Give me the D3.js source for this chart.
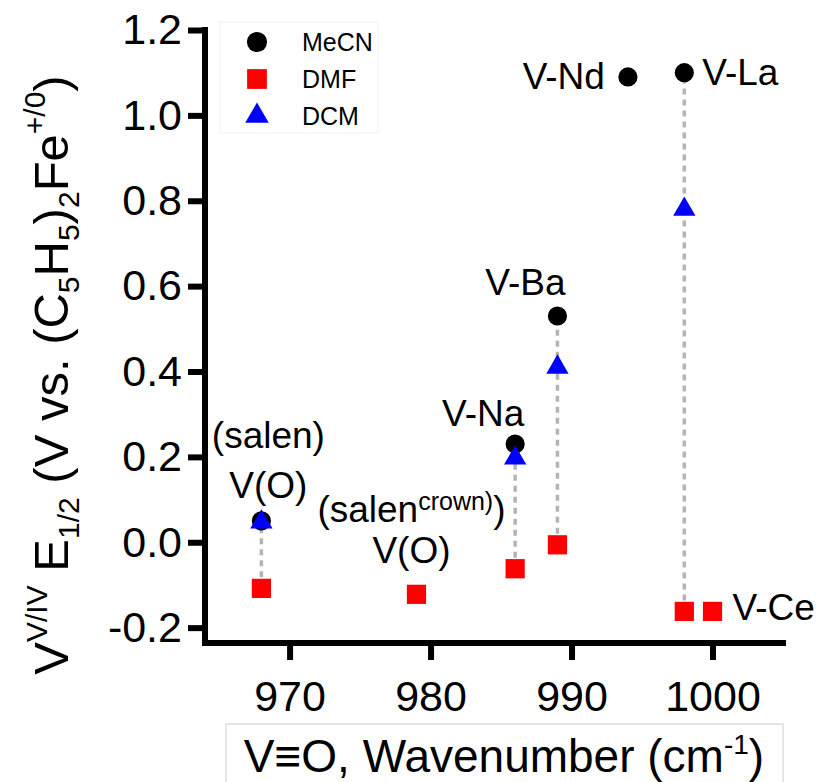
<!DOCTYPE html>
<html>
<head>
<meta charset="utf-8">
<script src="https://cdn.jsdelivr.net/npm/d3@7"></script>
<style>
	html, body { margin: 0; padding: 0; background: #fff; }
</style>
</head>
<body>
<script>
// wavenumber (cm-1) and E1/2 (V) per solvent
const mecnX = [968, 986, 989, 994, 998];
const mecnY = [0.05, 0.23, 0.53, 1.09, 1.10];
const dmfX = [968, 979, 986, 989, 998, 1000];
const dmfY = [-0.108, -0.122, -0.062, -0.006, -0.162, -0.162];
const dcmX = [968, 986, 989, 998];
const dcmY = [0.047, 0.197, 0.41, 0.78];

const xTicks = [970, 980, 990, 1000];
const yTicks = [-0.2, 0.0, 0.2, 0.4, 0.6, 0.8, 1.0, 1.2];

const solvents = ["MeCN", "DMF", "DCM"];
const colors = ["#000000", "#ff0000", "#0000ff"];

// compound labels, anchored to the point they name
const labels = [
	{ x: 968, y: 0.05, lines: ["(salen)", "V(O)"] },
	{ x: 979, y: -0.122, lines: ["(salen|crown)", "V(O)"] },
	{ x: 986, y: 0.23, lines: ["V-Na"] },
	{ x: 989, y: 0.53, lines: ["V-Ba"] },
	{ x: 994, y: 1.09, lines: ["V-Nd"] },
	{ x: 998, y: 1.10, lines: ["V-La"] },
	{ x: 1000, y: -0.162, lines: ["V-Ce"] },
];

const width = 822;
const height = 782;
const font = "'Liberation Sans', Arial, Helvetica, sans-serif";

const x = d3.scaleLinear().domain([964, 1005]).range([205, 783]);
const y = d3.scaleLinear().domain([-0.236, 1.2]).range([643, 30]);

const svg = d3
	.select("body")
	.append("svg")
	.attr("width", width)
	.attr("height", height)
	.attr("font-family", font);

// dashed connectors: DMF point up to the MeCN point at the same wavenumber
const pairs = mecnX
	.map((v, i) => ({ x: v, top: mecnY[i], bottom: dmfY[dmfX.indexOf(v)] }))
	.filter((d) => d.bottom !== undefined);

svg.append("g")
	.selectAll("line")
	.data(pairs)
	.join("line")
	.attr("x1", (d) => x(d.x))
	.attr("x2", (d) => x(d.x))
	.attr("y1", (d) => y(d.bottom))
	.attr("y2", (d) => y(d.top))
	.attr("stroke", "#b4b4b4")
	.attr("stroke-width", 3.5)
	.attr("stroke-dasharray", "6,5");

// axes
const yFormat = (d) => d3.format(".1f")(d).replace("\u2212", "-");
const yAxis = svg.append("g")
	.attr("transform", `translate(${x(964)},0)`)
	.call(d3.axisLeft(y).tickValues(yTicks).tickSize(17).tickPadding(6).tickFormat(yFormat));

const xAxis = svg.append("g")
	.attr("transform", `translate(0,${y(-0.236)})`)
	.call(d3.axisBottom(x).tickValues(xTicks).tickSize(17).tickPadding(20).tickFormat(d3.format("d")));

[yAxis, xAxis].forEach((g) => {
	g.select(".domain").attr("stroke-width", 6).attr("stroke-linecap", "square");
	g.selectAll(".tick line").attr("stroke-width", 6);
	g.selectAll(".tick text")
		.attr("font-family", font)
		.attr("font-size", 43)
		.attr("fill", "#000");
});
// plain axis lines without the outer tick stubs
yAxis.select(".domain").attr("d", `M0,${y(1.2)}V${y(-0.236)}`);
xAxis.select(".domain").attr("d", `M${x(964)},0H${x(1005)}`);

// markers
const markers = [
	{ xs: mecnX, ys: mecnY, type: d3.symbolCircle, size: 290 },
	{ xs: dmfX, ys: dmfY, type: d3.symbolSquare, size: 370 },
	{ xs: dcmX, ys: dcmY, type: d3.symbolTriangle, size: 215 },
];

markers.forEach((m, k) => {
	svg.append("g")
		.selectAll("path")
		.data(m.xs.map((v, i) => [v, m.ys[i]]))
		.join("path")
		.attr("transform", (d) => `translate(${x(d[0])},${y(d[1])})`)
		.attr("d", d3.symbol().type(m.type).size(m.size))
		.attr("fill", colors[k]);
});

// compound annotations
const ann = svg.append("g").attr("font-size", 37).attr("fill", "#000");
const place = [
	{ dx: 7, dy: [-73, -23], anchor: "middle" },
	{ dx: -5, dy: [-72, -31], anchor: "middle" },
	{ dx: -32, dy: [-18], anchor: "middle" },
	{ dx: -32, dy: [-21], anchor: "middle" },
	{ dx: -23, dy: [12], anchor: "end" },
	{ dx: 18, dy: [12], anchor: "start" },
	{ dx: 20, dy: [9], anchor: "start" },
];

labels.forEach((l, i) => {
	l.lines.forEach((line, j) => {
		const t = ann.append("text")
			.attr("x", x(l.x) + place[i].dx)
			.attr("y", y(l.y) + place[i].dy[j])
			.attr("text-anchor", place[i].anchor);
		const parts = line.split("|");
		if (parts.length === 1) {
			t.text(line);
		} else {
			t.append("tspan").text(parts[0]);
			t.append("tspan").attr("font-size", 25).attr("dy", -12).text(parts[1]);
			t.append("tspan").attr("dy", 12).text(")");
		}
	});
});

// legend
const legend = svg.append("g");
legend.append("rect")
	.attr("x", 220).attr("y", 22).attr("width", 158).attr("height", 111)
	.attr("fill", "none").attr("stroke", "#f0f0f0");
markers.forEach((m, k) => {
	const ly = 42 + k * 37;
	legend.append("path")
		.attr("transform", `translate(257,${ly})`)
		.attr("d", d3.symbol().type(m.type).size(k === 2 ? 240 : k === 1 ? 390 : 320))
		.attr("fill", colors[k]);
	legend.append("text")
		.attr("x", 302).attr("y", ly + 9)
		.attr("font-size", 25)
		.text(solvents[k]);
});

// x axis title in a light box
svg.append("rect")
	.attr("x", 226).attr("y", 724).attr("width", 557).attr("height", 80)
	.attr("fill", "none").attr("stroke", "#cccccc");
const xt = svg.append("text")
	.attr("x", 504).attr("y", 772)
	.attr("text-anchor", "middle")
	.attr("font-size", 46);
xt.append("tspan").text("V\u2261O, Wavenumber (cm");
xt.append("tspan").attr("font-size", 28).attr("dy", -18).text("-1");
xt.append("tspan").attr("dy", 18).text(")");

// y axis title
const yt = svg.append("text")
	.attr("transform", "translate(68,375) rotate(-90)")
	.attr("text-anchor", "middle")
	.attr("font-size", 49);
const seg = (txt, size, dy) => yt.append("tspan").attr("font-size", size).attr("dy", dy).text(txt);
seg("V", 49, 0);
seg("V/IV", 30, -21);
seg(" E", 49, 21);
seg("1/2", 30, 11);
seg(" (V vs. (C", 49, -11);
seg("5", 30, 11);
seg("H", 49, -11);
seg("5", 30, 11);
seg(")", 49, -11);
seg("2", 30, 11);
seg("Fe", 49, -11);
seg("+/0", 30, -23);
seg(")", 49, 23);
</script>
</body>
</html>
